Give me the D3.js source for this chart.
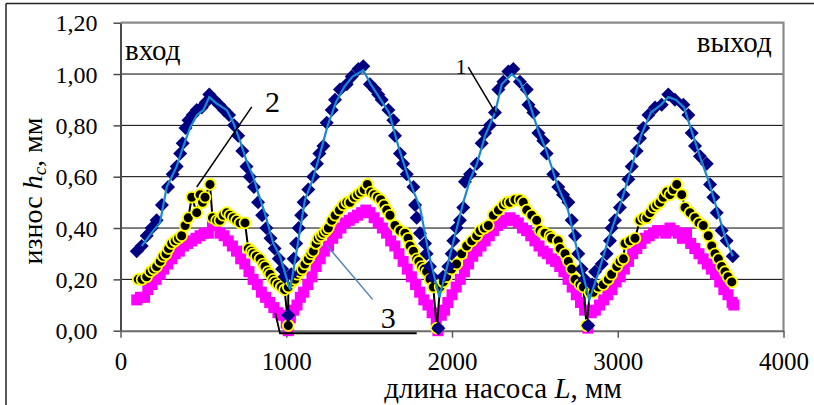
<!DOCTYPE html>
<html>
<head>
<meta charset="utf-8">
<script src="https://cdn.jsdelivr.net/npm/d3@7"></script>
<style>
  body { margin: 0; background: #fff; }
  text { font-family: "Liberation Serif", "Times New Roman", "DejaVu Serif", serif; fill: #000; }
</style>
</head>
<body>
<svg id="chart"></svg>
<script>
// axis ticks
const lenTicks = [0, 1000, 2000, 3000, 4000];
const wearTicks = [0, 0.2, 0.4, 0.6, 0.8, 1.0, 1.2];

// series 1 (diamonds): [L, mm]
const wear1 = [
  [98,0.31],[128,0.33],[158,0.37],[188,0.40],[218,0.43],[250,0.49],[287,0.56],[315,0.61],[339,0.64],[360,0.69],
  [375,0.73],[392,0.79],[410,0.82],[435,0.84],[460,0.86],[490,0.87],[515,0.89],[536,0.92],[565,0.90],[595,0.88],
  [625,0.86],[655,0.84],[685,0.80],[710,0.76],[735,0.70],[760,0.64],[780,0.60],[805,0.56],[830,0.50],[855,0.45],
  [880,0.40],[905,0.36],[930,0.32],[955,0.28],[975,0.24],[990,0.21],[1012,0.06],
  [1030,0.22],[1045,0.28],[1060,0.34],[1075,0.40],[1090,0.45],[1105,0.50],[1133,0.55],[1163,0.60],[1185,0.65],[1200,0.69],
  [1224,0.72],[1244,0.81],[1274,0.86],[1294,0.90],[1324,0.94],[1365,0.96],[1395,0.99],[1435,1.02],[1465,1.03],[1505,0.96],
  [1535,0.94],[1555,0.92],[1576,0.90],[1616,0.86],[1646,0.82],[1656,0.76],[1686,0.69],[1705,0.65],[1727,0.61],[1767,0.56],
  [1777,0.49],[1787,0.44],[1807,0.38],[1837,0.34],[1847,0.30],[1867,0.25],[1882,0.21],[1918,0.01],
  [1947,0.21],[1978,0.25],[1998,0.30],[2008,0.35],[2028,0.40],[2048,0.43],[2068,0.48],[2078,0.58],[2109,0.61],[2149,0.65],
  [2179,0.73],[2199,0.77],[2229,0.80],[2259,0.85],[2280,0.94],[2310,0.97],[2340,1.01],[2370,1.02],[2410,0.97],[2451,0.94],
  [2461,0.88],[2491,0.85],[2521,0.77],[2551,0.74],[2571,0.69],[2611,0.61],[2641,0.56],[2670,0.53],[2702,0.50],[2722,0.43],
  [2742,0.37],[2762,0.30],[2782,0.24],[2800,0.20],[2822,0.02],
  [2845,0.18],[2863,0.23],[2903,0.26],[2933,0.30],[2953,0.35],[2963,0.40],[2983,0.43],[3013,0.48],[3034,0.53],[3064,0.59],
  [3084,0.64],[3114,0.70],[3134,0.75],[3154,0.79],[3185,0.84],[3225,0.87],[3265,0.88],[3305,0.92],[3345,0.90],[3396,0.88],
  [3426,0.84],[3446,0.77],[3466,0.72],[3496,0.68],[3537,0.65],[3557,0.57],[3577,0.52],[3597,0.46],[3627,0.39],[3657,0.35],
  [3694,0.29]
];

// trend line through series 1
const trend1 = [
  [128,0.33],[198,0.39],[238,0.42],[279,0.56],[339,0.64],[369,0.70],[419,0.79],[460,0.84],[500,0.86],[536,0.91],
  [580,0.885],[641,0.86],[681,0.81],[721,0.74],[761,0.66],[801,0.60],[831,0.535],[870,0.46],[922,0.34],[962,0.29],
  [1023,0.16],[1060,0.30],[1113,0.51],[1160,0.59],[1200,0.68],[1250,0.80],[1300,0.89],[1350,0.95],[1400,0.99],[1465,1.015],
  [1510,0.96],[1560,0.91],[1620,0.85],[1680,0.71],[1730,0.61],[1770,0.54],[1807,0.48],[1860,0.30],[1924,0.13],[1990,0.30],
  [2068,0.50],[2110,0.59],[2150,0.65],[2200,0.76],[2260,0.85],[2300,0.96],[2360,1.00],[2410,0.97],[2460,0.90],[2520,0.78],
  [2570,0.70],[2640,0.56],[2700,0.47],[2760,0.30],[2828,0.12],[2880,0.22],[2950,0.37],[3020,0.50],[3080,0.63],[3140,0.76],
  [3200,0.85],[3260,0.88],[3305,0.91],[3350,0.90],[3400,0.87],[3450,0.77],[3500,0.67],[3550,0.58],[3600,0.47],[3650,0.36],
  [3694,0.29]
];

// series 2 (circles)
const wear2 = [
  [107,0.20],[130,0.20],[158,0.21],[180,0.23],[200,0.24],[218,0.25],[240,0.27],[257,0.29],[275,0.30],[290,0.32],
  [309,0.34],[330,0.35],[350,0.36],[369,0.37],[390,0.41],[409,0.44],[430,0.52],[460,0.46],[480,0.53],[495,0.50],
  [510,0.52],[540,0.57],[555,0.44],[580,0.43],[600,0.43],[620,0.45],[641,0.46],[660,0.45],[681,0.44],[700,0.43],
  [721,0.42],[751,0.42],[771,0.32],[790,0.31],[801,0.30],[820,0.29],[842,0.28],[860,0.26],[872,0.25],[890,0.23],
  [902,0.22],[920,0.20],[932,0.19],[950,0.18],[970,0.17],[990,0.16],[1012,0.02],
  [1012,0.17],[1033,0.19],[1053,0.20],[1068,0.22],[1083,0.23],[1098,0.24],[1113,0.26],[1133,0.28],[1150,0.30],[1163,0.31],
  [1180,0.34],[1193,0.36],[1210,0.37],[1224,0.38],[1240,0.39],[1254,0.40],[1275,0.43],[1295,0.45],[1320,0.47],[1344,0.49],
  [1365,0.50],[1385,0.50],[1410,0.52],[1430,0.53],[1450,0.54],[1470,0.55],[1489,0.57],[1510,0.54],[1530,0.53],[1550,0.52],
  [1570,0.51],[1590,0.49],[1606,0.47],[1626,0.45],[1656,0.41],[1686,0.39],[1716,0.38],[1735,0.36],[1747,0.33],[1767,0.31],
  [1787,0.28],[1800,0.27],[1817,0.25],[1832,0.24],[1847,0.23],[1867,0.20],[1887,0.17],[1908,0.01],
  [1928,0.17],[1948,0.19],[1968,0.21],[1998,0.24],[2028,0.26],[2058,0.30],[2089,0.33],[2119,0.35],[2149,0.37],[2169,0.39],
  [2195,0.40],[2219,0.41],[2249,0.45],[2280,0.47],[2310,0.49],[2330,0.50],[2350,0.50],[2380,0.51],[2410,0.51],[2430,0.50],
  [2451,0.47],[2481,0.45],[2511,0.43],[2531,0.39],[2551,0.38],[2561,0.38],[2591,0.37],[2601,0.36],[2641,0.35],[2652,0.32],
  [2682,0.30],[2702,0.27],[2722,0.24],[2742,0.20],[2772,0.18],[2792,0.17],[2812,0.02],
  [2832,0.15],[2852,0.15],[2883,0.17],[2913,0.18],[2943,0.20],[2963,0.22],[2994,0.25],[3014,0.27],[3034,0.28],[3044,0.34],
  [3074,0.35],[3104,0.36],[3134,0.43],[3155,0.44],[3175,0.44],[3195,0.46],[3215,0.48],[3235,0.49],[3255,0.50],[3275,0.52],
  [3295,0.54],[3315,0.53],[3335,0.55],[3356,0.57],[3386,0.53],[3406,0.48],[3436,0.46],[3466,0.44],[3490,0.42],[3516,0.41],
  [3546,0.37],[3567,0.33],[3587,0.30],[3607,0.28],[3627,0.25],[3647,0.23],[3665,0.21],[3688,0.19]
];

// series 3 (squares)
const wear3 = [
  [98,0.12],[120,0.13],[145,0.13],[165,0.16],[190,0.18],[215,0.20],[240,0.22],[260,0.24],[285,0.26],[310,0.28],
  [330,0.30],[355,0.31],[380,0.33],[405,0.34],[430,0.35],[455,0.36],[480,0.37],[505,0.38],[530,0.38],[555,0.41],
  [575,0.41],[600,0.38],[625,0.37],[650,0.35],[675,0.33],[700,0.31],[725,0.28],[750,0.26],[775,0.23],[800,0.20],
  [825,0.18],[850,0.15],[875,0.13],[900,0.11],[925,0.09],[950,0.07],[975,0.06],[1000,0.03],[1012,0.00],
  [1025,0.05],[1045,0.08],[1065,0.10],[1085,0.13],[1105,0.15],[1130,0.18],[1155,0.21],[1180,0.25],[1205,0.28],[1230,0.31],
  [1255,0.33],[1280,0.36],[1305,0.38],[1330,0.40],[1355,0.42],[1380,0.43],[1405,0.44],[1430,0.45],[1455,0.46],[1480,0.47],
  [1505,0.46],[1530,0.44],[1555,0.42],[1580,0.40],[1605,0.38],[1630,0.35],[1655,0.33],[1680,0.30],[1705,0.27],[1730,0.24],
  [1755,0.21],[1780,0.18],[1805,0.15],[1830,0.12],[1855,0.10],[1880,0.07],[1905,0.04],[1915,0.00],
  [1935,0.06],[1955,0.08],[1975,0.11],[2000,0.14],[2025,0.17],[2050,0.20],[2075,0.23],[2100,0.26],[2125,0.29],[2150,0.31],
  [2175,0.33],[2200,0.35],[2225,0.37],[2250,0.39],[2275,0.41],[2300,0.42],[2325,0.43],[2350,0.44],[2375,0.43],[2400,0.42],
  [2425,0.40],[2450,0.39],[2475,0.37],[2500,0.35],[2525,0.33],[2550,0.31],[2575,0.30],[2600,0.28],[2625,0.27],[2650,0.25],
  [2675,0.23],[2700,0.20],[2725,0.17],[2750,0.14],[2775,0.11],[2800,0.08],[2820,0.01],
  [2840,0.07],[2865,0.08],[2890,0.10],[2915,0.12],[2940,0.14],[2965,0.16],[2990,0.19],[3015,0.21],[3040,0.24],[3065,0.27],
  [3090,0.30],[3115,0.32],[3140,0.34],[3165,0.36],[3190,0.37],[3215,0.38],[3240,0.39],[3265,0.39],[3290,0.38],[3315,0.40],
  [3340,0.39],[3365,0.38],[3390,0.36],[3415,0.38],[3440,0.34],[3465,0.32],[3490,0.30],[3515,0.28],[3540,0.26],[3565,0.24],
  [3590,0.22],[3615,0.19],[3640,0.16],[3665,0.14],[3690,0.11],[3700,0.10]
];

const width = 814, height = 405;
const serif = '"Liberation Serif", "Times New Roman", "DejaVu Serif", serif';

const svg = d3.select('#chart')
    .attr('width', width)
    .attr('height', height)
    .attr('font-family', serif)
    .style('background', '#FFFFFF');

// scales
const x = d3.scaleLinear().domain([0, 4000]).range([120.5, 783.5]);
const y = d3.scaleLinear().domain([0, 1.2]).range([330.7, 22.7]);

// outer frame (top and left only visible)
svg.append('line').attr('x1', 6).attr('x2', width).attr('y1', 3.5).attr('y2', 3.5)
    .attr('stroke', '#222').attr('stroke-width', 1.5);
svg.append('line').attr('x1', 6).attr('x2', 6).attr('y1', 3.5).attr('y2', height)
    .attr('stroke', '#222').attr('stroke-width', 1.5);

// gridlines
svg.selectAll('.grid')
    .data(wearTicks.filter(d => d > 0 && d < 1.2))
    .enter().append('line')
    .attr('x1', x(0)).attr('x2', x(4000))
    .attr('y1', d => y(d)).attr('y2', d => y(d))
    .attr('stroke', '#000').attr('stroke-width', 1);

// plot area border (top, right)
svg.append('path')
    .attr('d', `M${x(0)},${y(1.2)}H${x(4000)}V${y(0)}`)
    .attr('fill', 'none').attr('stroke', '#8a8a8a').attr('stroke-width', 2.2);

// axes
const yAxis = svg.append('g')
    .attr('transform', `translate(${x(0)},0)`)
    .call(d3.axisLeft(y).tickValues(wearTicks).tickSize(7).tickSizeOuter(0).tickPadding(16)
        .tickFormat(d => d.toFixed(2).replace('.', ',')));
yAxis.attr('font-family', serif).attr('font-size', null);
yAxis.select('.domain').attr('stroke', '#4a4a4a').attr('stroke-width', 2);
yAxis.selectAll('.tick line').attr('stroke', '#4a4a4a').attr('stroke-width', 1.5);
yAxis.selectAll('.tick text').style('font-size', '24px').attr('dy', '0.34em')
    .style('font-family', serif);

const xAxis = svg.append('g')
    .attr('transform', `translate(0,${y(0)})`)
    .call(d3.axisBottom(x).tickValues(lenTicks).tickSize(7).tickSizeOuter(0)
        .tickFormat(d3.format('d')));
xAxis.attr('font-family', serif).attr('font-size', null);
xAxis.select('.domain').attr('stroke', '#6a6a6a').attr('stroke-width', 2);
xAxis.selectAll('.tick line').attr('stroke', '#5a5a5a').attr('stroke-width', 1.5);
xAxis.selectAll('.tick text').style('font-size', '25px').attr('y', 39).attr('dy', 0)
    .style('font-family', serif);

// series 3: magenta squares
const sq = 11;
svg.selectAll('.sq')
    .data(wear3)
    .enter().append('rect')
    .attr('x', d => x(d[0]) - sq / 2)
    .attr('y', d => y(d[1]) - sq / 2)
    .attr('width', sq).attr('height', sq)
    .attr('fill', '#ff00ff');

// series 2: line + circles
const line = d3.line().x(d => x(d[0])).y(d => y(d[1]));
svg.append('path')
    .datum(wear2)
    .attr('d', line)
    .attr('fill', 'none').attr('stroke', '#000').attr('stroke-width', 2);

svg.selectAll('.circ')
    .data(wear2)
    .enter().append('circle')
    .attr('cx', d => x(d[0]))
    .attr('cy', d => y(d[1]))
    .attr('r', 5.4)
    .attr('fill', '#000').attr('stroke', '#ffff00').attr('stroke-width', 1.8);

// series 1: navy diamonds
const r = 7;
svg.selectAll('.dia')
    .data(wear1)
    .enter().append('path')
    .attr('d', d => `M${x(d[0])},${y(d[1]) - r}l${r},${r}l${-r},${r}l${-r},${-r}z`)
    .attr('fill', '#000080');

// trend line
svg.append('path')
    .datum(trend1)
    .attr('d', line)
    .attr('fill', 'none').attr('stroke', '#1a8ad0').attr('stroke-width', 2.2);

// labels and leaders
svg.append('line')
    .attr('x1', x(792)).attr('y1', y(0.872)).attr('x2', x(460)).attr('y2', y(0.56))
    .attr('stroke', '#000').attr('stroke-width', 1.5);
svg.append('text').attr('x', x(872)).attr('y', y(0.851)).style('font-size', '30px').text('2');

svg.append('line')
    .attr('x1', x(2098)).attr('y1', y(1.027)).attr('x2', x(2265)).attr('y2', y(0.846))
    .attr('stroke', '#000').attr('stroke-width', 1.5);
svg.append('text').attr('x', x(2054)).attr('y', y(1.0)).attr('text-anchor', 'middle')
    .style('font-size', '22px').text('1');

svg.append('line')
    .attr('x1', x(1244)).attr('y1', y(0.333)).attr('x2', x(1521)).attr('y2', y(0.122))
    .attr('stroke', '#4f81bd').attr('stroke-width', 1.5);
svg.append('path')
    .attr('d', `M${x(934)},${y(0.069)}L${x(962)},${y(-0.01)}H${x(1787)}`)
    .attr('fill', 'none').attr('stroke', '#000').attr('stroke-width', 1.8);
svg.append('text').attr('x', x(1616)).attr('y', y(0.01)).attr('text-anchor', 'middle')
    .style('font-size', '30px').text('3');

svg.append('text').attr('x', x(27)).attr('y', y(1.055)).style('font-size', '29px').text('вход');
svg.append('text').attr('x', x(3929)).attr('y', y(1.084)).attr('text-anchor', 'end')
    .style('font-size', '29px').text('выход');

// axis titles
const xt = svg.append('text')
    .attr('x', 503).attr('y', 398)
    .attr('text-anchor', 'middle')
    .style('font-size', '29px');
xt.append('tspan').text('длина насоса ');
xt.append('tspan').style('font-style', 'italic').text('L');
xt.append('tspan').text(', мм');

const yt = svg.append('text')
    .attr('transform', 'translate(42,191) rotate(-90)')
    .attr('text-anchor', 'middle')
    .style('font-size', '28px');
yt.append('tspan').text('износ ');
yt.append('tspan').style('font-style', 'italic').text('h');
yt.append('tspan').style('font-style', 'italic').style('font-size', '19px').attr('dy', 4).text('c');
yt.append('tspan').attr('dy', -4).text(', мм');
</script>
</body>
</html>
